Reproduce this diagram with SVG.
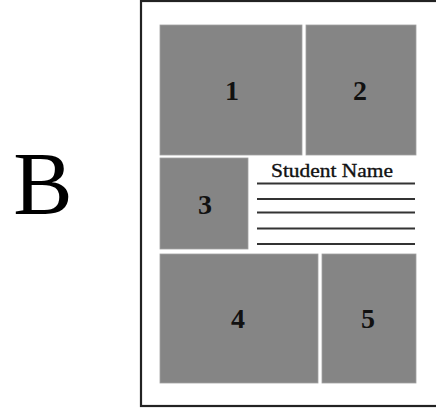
<svg xmlns="http://www.w3.org/2000/svg" width="436" height="408" viewBox="0 0 436 408">
<style>
.panel{fill:#858585;stroke:#a0a0a0;stroke-width:0.8}
.num{font-family:"Liberation Serif",serif;font-weight:bold;font-size:28px;fill:#111;text-anchor:middle}
.ln{stroke:#333;stroke-width:2}
</style>
<rect width="436" height="408" fill="#fff"/>
<text x="43" y="213" font-family="Liberation Serif, serif" font-size="89" text-anchor="middle" fill="#000">B</text>
<g id="page">
<rect x="141" y="1" width="310" height="405" fill="#fff" stroke="#222" stroke-width="2.2"/>
</g>
<g id="panel1"><rect class="panel" x="160" y="25" width="142" height="130"/><text class="num" x="232" y="100">1</text></g>
<g id="panel2"><rect class="panel" x="306" y="25" width="110" height="130"/><text class="num" x="360" y="100">2</text></g>
<g id="panel3"><rect class="panel" x="160" y="158" width="88" height="91"/><text class="num" x="205" y="214">3</text></g>
<g id="panel4"><rect class="panel" x="160" y="254" width="158" height="129"/><text class="num" x="238" y="328">4</text></g>
<g id="panel5"><rect class="panel" x="322" y="254" width="94" height="129"/><text class="num" x="368" y="328">5</text></g>
<g id="name-lines">
<text x="271" y="177" font-family="Liberation Serif, serif" font-size="19" textLength="122" lengthAdjust="spacingAndGlyphs" fill="#111" stroke="#111" stroke-width="0.35">Student Name</text>
<line class="ln" x1="257" y1="183.5" x2="415" y2="183.5"/>
<line class="ln" x1="257" y1="199" x2="415" y2="199"/>
<line class="ln" x1="257" y1="212.5" x2="415" y2="212.5" stroke="#555"/>
<line class="ln" x1="257" y1="228.5" x2="415" y2="228.5" stroke="#555"/>
<line class="ln" x1="257" y1="244" x2="415" y2="244" stroke="#555"/>
</g>
</svg>
